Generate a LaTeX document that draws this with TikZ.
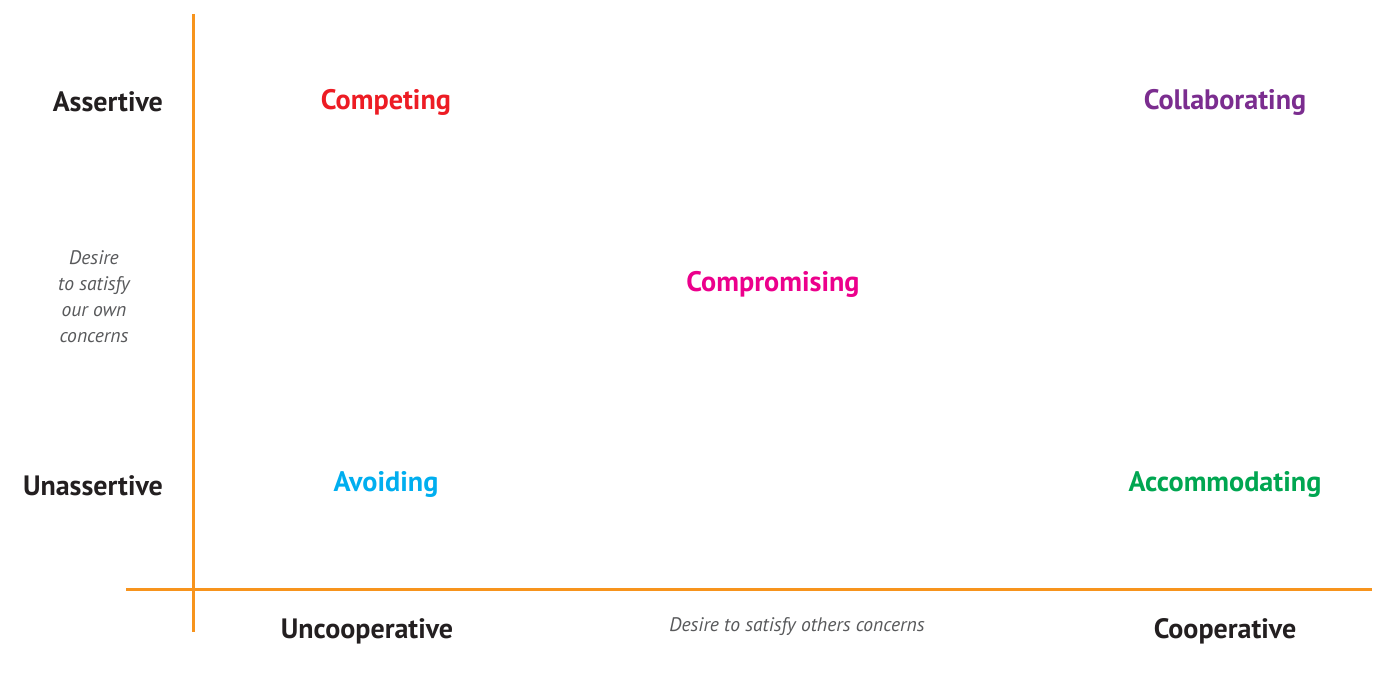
\documentclass[tikz,border=0pt]{standalone}
\usepackage{fontspec}
\setmainfont{PT Sans}

\tikzset{
  axis line/.style={draw=axiscol, line width=1.5pt},
  axis label/.style={font=\fontsize{14}{16}\selectfont\bfseries, text=labelcol},
  axis note/.style={font=\fontsize{9.8}{13}\selectfont\itshape, text=notecol, align=center},
  mode label/.style={font=\fontsize{14.1}{16}\selectfont\bfseries},
}
\definecolor{axiscol}{HTML}{F7941D}
\definecolor{labelcol}{HTML}{231F20}
\definecolor{notecol}{HTML}{58595B}
\definecolor{competecol}{HTML}{ED1C24}
\definecolor{collabcol}{HTML}{7B2D8F}
\definecolor{compromcol}{HTML}{EC008C}
\definecolor{avoidcol}{HTML}{00AEEF}
\definecolor{accomcol}{HTML}{00A651}

\begin{document}
\begin{tikzpicture}[x=0.5pt, y=-0.5pt]
    % Layout: pixel grid, y runs downward
    \useasboundingbox (0,0) rectangle (1378,679);

    % --- axes ---
    \coordinate (ytop) at (193, 14);
    \coordinate (ybot) at (193, 632);
    \coordinate (xleft) at (126, 589);
    \coordinate (xright) at (1372, 589);
    \draw[axis line] (ytop) -- (ybot);
    \draw[axis line] (xleft) -- (xright);

    % --- vertical axis labels ---
    \node[axis label, anchor=east] (assertive) at (170, 102) {Assertive};
    \node[axis label, anchor=east] (unassertive) at (170, 486) {Unassertive};
    \node[axis note] (ownconcern) at (94, 297)
      {Desire\\to satisfy\\our own\\concerns};

    % --- horizontal axis labels ---
    \node[axis label] (uncoop) at (367, 631) {Uncooperative};
    \node[axis note] (otherconcern) at (797, 627) {Desire to satisfy others concerns};
    \node[axis label] (coop) at (1225, 631) {Cooperative};

    % --- the five modes ---
    \node[mode label, text=competecol] (competing) at (386, 102) {Competing};
    \node[mode label, text=collabcol] (collaborating) at (1225, 102) {Collaborating};
    \node[mode label, text=compromcol] (compromising) at (773, 284) {Compromising};
    \node[mode label, text=avoidcol] (avoiding) at (386, 484) {Avoiding};
    \node[mode label, text=accomcol] (accommodating) at (1225, 484) {Accommodating};
\end{tikzpicture}
\end{document}
